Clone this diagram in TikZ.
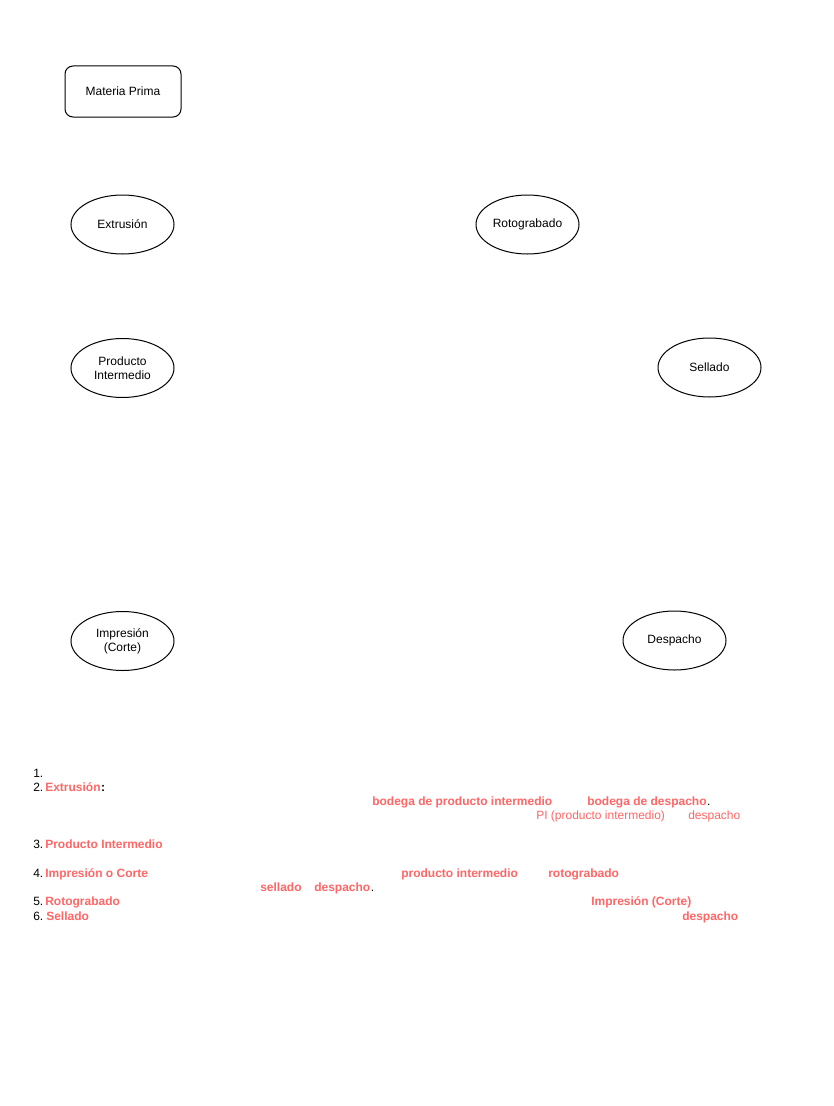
\documentclass[tikz,border=0pt]{standalone}
\usepackage{fontspec}
\setmainfont{Liberation Sans}
\usetikzlibrary{shapes.geometric}
\definecolor{NoteRed}{HTML}{FF6666}

\begin{document}
\begin{tikzpicture}[x=0.75pt, y=-0.75pt,
    proc/.style={draw, ellipse, line width=0.75pt, minimum width=103*0.75pt, minimum height=59*0.75pt, inner sep=0pt, align=center, font=\fontsize{9}{10.5}\selectfont},
    store/.style={draw, rounded corners=6pt, line width=0.75pt, minimum width=116*0.75pt, minimum height=51*0.75pt, font=\fontsize{9}{10.5}\selectfont},
    txt/.style={anchor=base west, inner sep=0pt, font=\fontsize{9}{10.5}\selectfont},
    hot/.style={txt, text=NoteRed, font=\fontsize{9}{10.5}\selectfont\bfseries},
    soft/.style={txt, text=NoteRed}]
    % Page frame
    \useasboundingbox (0,0) rectangle (833,1106);

    % Diagram nodes
    \node[store] (prima) at (123, 91.5) {Materia Prima};
    \node[proc] (extr) at (122.5, 224.5) {Extrusión};
    \node[proc] (roto) at (527.5, 224.5) {Rotograbado};
    \node[proc] (pint) at (122.5, 368) {Producto\\Intermedio};
    \node[proc] (sell) at (709.5, 367.5) {Sellado};
    \node[proc] (impr) at (122.5, 641) {Impresión\\(Corte)};
    \node[proc] (desp) at (674.5, 640.5) {Despacho};

    % Notes below (baselines)
    \node[txt] (n1) at (33, 777) {1.};
    \node[txt] (n2) at (33, 791) {2.};
    \node[hot] (t2) at (45, 791) {Extrusión};
    \node[txt, font=\fontsize{9}{10.5}\selectfont\bfseries] (t2c) at (t2.base east) {:};
    \node[hot] (t2a) at (372, 805) {bodega de producto intermedio};
    \node[hot] (t2b) at (587, 805) {bodega de despacho};
    \node[txt] (t2d) at (t2b.base east) {.};
    \node[soft] (t2e) at (536, 819.5) {PI (producto intermedio)};
    \node[soft] (t2f) at (688, 819.5) {despacho};

    \node[txt] (n3) at (33, 848) {3.};
    \node[hot] (t3) at (45, 848) {Producto Intermedio};

    \node[txt] (n4) at (33, 877) {4.};
    \node[hot] (t4) at (45, 877) {Impresión o Corte};
    \node[hot] (t4a) at (401, 877) {producto intermedio};
    \node[hot] (t4b) at (548, 877) {rotograbado};
    \node[hot] (t4c) at (260, 891.5) {sellado};
    \node[hot] (t4d) at (314, 891.5) {despacho};
    \node[txt] (t4e) at (t4d.base east) {.};

    \node[txt] (n5) at (33, 905.5) {5.};
    \node[hot] (t5) at (45, 905.5) {Rotograbado};
    \node[hot] (t5a) at (591, 905.5) {Impresión (Corte)};

    \node[txt] (n6) at (33, 920) {6.};
    \node[hot] (t6) at (46, 920) {Sellado};
    \node[hot] (t6a) at (682, 920) {despacho};
\end{tikzpicture}
\end{document}
